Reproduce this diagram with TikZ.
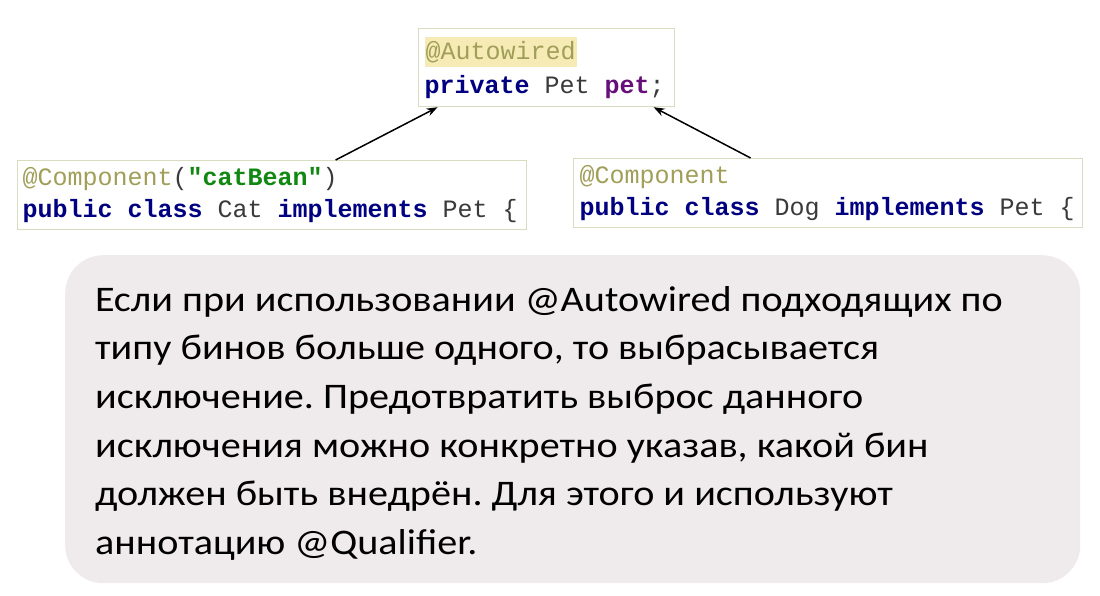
\documentclass[tikz,border=0pt]{standalone}
\usepackage{fontspec}
\usepackage{tikz}
\setmainfont{Carlito}
\newfontfamily\codefont{Liberation Mono}
\newfontfamily\notefont[FakeStretch=1.115]{Carlito}
\usetikzlibrary{arrows.meta}
\definecolor{annot}{HTML}{A09E58}
\definecolor{keyw}{HTML}{000080}
\definecolor{strg}{HTML}{118811}
\definecolor{field}{HTML}{660E7A}
\definecolor{plain}{HTML}{3A3A3A}
\definecolor{hilite}{HTML}{F6EBB4}
\definecolor{codeborder}{HTML}{D9DCC0}
\definecolor{notefill}{HTML}{EFEAEB}
\newcommand{\kw}[1]{\textcolor{keyw}{\textbf{#1}}}
\newcommand{\an}[1]{\textcolor{annot}{#1}}
\newcommand{\codespacing}{\spaceskip=15pt\relax}
\frenchspacing
\tikzset{
->, % connectors are directed
>={Stealth[length=11pt,width=8pt]}, % filled arrow heads
codebox/.style={draw=codeborder, line width=1.2pt, fill=white, anchor=north west,
  inner xsep=6pt, inner ysep=0pt, align=left, text=plain,
  execute at begin node=\codespacing,
  font=\codefont\fontsize{25}{32}\selectfont}, % java snippets
notebox/.style={fill=notefill, rounded corners=38pt, anchor=north west,
  minimum width=1015pt, minimum height=328pt}, % grey explanation panel
notetext/.style={anchor=north west, align=left, inner sep=0pt,
  font=\notefont\fontsize{36}{48.6}\selectfont}, % explanation text
}

\begin{document}
\begin{tikzpicture}[x=1pt,y=-1pt]
		\useasboundingbox (0,0) rectangle (1100,595);
		\node[codebox, text width=244pt, minimum height=78pt, font=\codefont\fontsize{25}{34}\selectfont] (field) at (418,28)
        {{\setlength\fboxsep{1pt}\colorbox{hilite}{\rule[-7pt]{0pt}{28pt}\an{@Autowired}}}\\
        \kw{private} Pet \textcolor{field}{\textbf{pet}};};
		\node[codebox, text width=499pt, minimum height=69pt, inner xsep=5pt] (cat) at (17,160)
        {\an{@Component}(\textcolor{strg}{\textbf{"catBean"}})\\
        \kw{public} \kw{class} Cat \kw{implements} Pet \{};
		\node[codebox, text width=497pt, minimum height=69pt] (dog) at (573,158)
        {\an{@Component}\\
        \kw{public} \kw{class} Dog \kw{implements} Pet \{};
		\draw[line width=1.5pt] ([xshift=63.5pt]cat.north) -- ([xshift=-109pt]field.south);
		\draw[line width=1.5pt] ([xshift=-77.5pt]dog.north) -- ([xshift=107pt]field.south);
		\node[notebox] (note) at (65,255) {};
		\node[notetext] (notetxt) at (95,286)
        {Если при использовании @Autowired подходящих по\\
        типу бинов больше одного, то выбрасывается\\
        исключение. Предотвратить выброс данного\\
        исключения можно конкретно указав, какой бин\\
        должен быть внедрён. Для этого и используют\\
        аннотацию @Qualifier.};
	\end{tikzpicture}
\end{document}
